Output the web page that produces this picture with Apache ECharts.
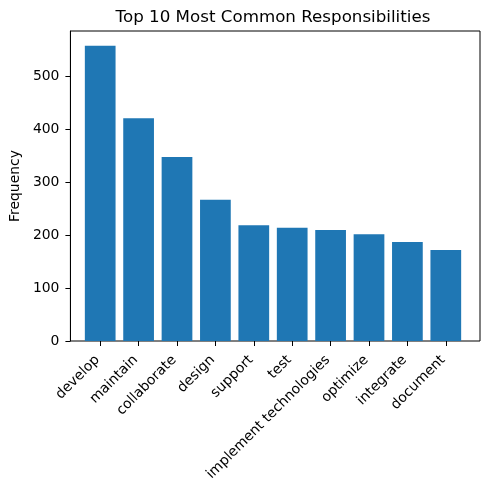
<!DOCTYPE html>
<html>
<head>
<meta charset="utf-8">
<script src="https://cdn.jsdelivr.net/npm/echarts@6/dist/echarts.min.js"></script>
<style>
html,body{margin:0;padding:0;background:#fff;}
#main{width:490px;height:489px;}
</style>
</head>
<body>
<div id="main"></div>
<script>
var categories = ['develop', 'maintain', 'collaborate', 'design', 'support', 'test', 'implement technologies', 'optimize', 'integrate', 'document'];
var frequency = [558, 421, 348, 267, 219, 214, 210, 202, 187, 172];
var yTicks = [0, 100, 200, 300, 400, 500];

var FONT = 'DejaVu Sans';
var yMax = 586;

var myChart = echarts.init(document.getElementById('main'));
var option = {
	animation: false,
	backgroundColor: '#fff',
	title: {
		text: 'Top 10 Most Common Responsibilities',
		left: 268,
		top: 4,
		textAlign: 'center',
		textStyle: {fontFamily: FONT, fontSize: 16.7, fontWeight: 'normal', color: '#000'}
	},
	grid: [
		// frame + y axis
		{left: 66, right: 10, top: 31, bottom: 148, show: true, borderColor: '#000', borderWidth: 1, backgroundColor: 'transparent'},
		// bars, matplotlib margins (5%) on x
		{left: 81, right: 25, top: 31, bottom: 148}
	],
	xAxis: [
		{gridIndex: 0, type: 'value', min: 0, max: 1, show: false},
		{
			gridIndex: 1,
			type: 'category',
			data: categories,
			axisLine: {show: false},
			axisTick: {show: true, alignWithLabel: true, length: 5, lineStyle: {color: '#000'}},
			axisLabel: {rotate: 45, interval: 0, margin: 14, padding: [0, 4, 0, 0], fontFamily: FONT, fontSize: 13.9, color: '#000'}
		}
	],
	yAxis: [
		{
			gridIndex: 0,
			type: 'value',
			min: 0,
			max: yMax,
			name: 'Frequency',
			nameLocation: 'middle',
			nameGap: 47,
			nameTextStyle: {fontFamily: FONT, fontSize: 13.9, color: '#000'},
			splitLine: {show: false},
			axisLine: {show: true, lineStyle: {color: '#000'}},
			axisTick: {show: true, length: 5, customValues: yTicks, lineStyle: {color: '#000'}},
			axisLabel: {margin: 11, customValues: yTicks, fontFamily: FONT, fontSize: 13.9, color: '#000'}
		},
		{gridIndex: 1, type: 'value', min: 0, max: yMax, show: false}
	],
	series: [{
		type: 'bar',
		xAxisIndex: 1,
		yAxisIndex: 1,
		data: frequency,
		barWidth: '80%',
		itemStyle: {color: '#1f77b4'}
	}]
};
myChart.setOption(option);
</script>
</body>
</html>
